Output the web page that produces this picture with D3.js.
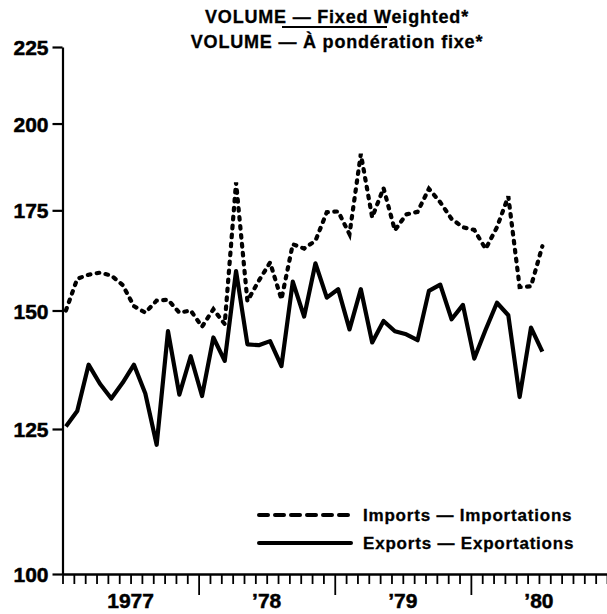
<!DOCTYPE html>
<html><head><meta charset="utf-8">
<script src="https://cdn.jsdelivr.net/npm/d3@7"></script>
<style>
body{margin:0;background:#fff}
svg{display:block}
text{font-family:"Liberation Sans",Arial,Helvetica,sans-serif;font-weight:bold;fill:#000}
</style>
</head><body><svg id="c" width="607" height="614"></svg>
<script>
// Monthly index values, January 1977 onward
const imports = [150,157.5,158.5,159,158.3,156,151,149.5,152.3,152.5,149.5,150,
  146.3,150.3,146.9,182.7,152.2,157,161.5,152.6,166.1,165,167,174.5,
  174.7,168.7,190.9,173.1,181.1,169.7,173.9,174.6,180.9,177.2,172.7,170.5,
  169.8,164.9,170.5,178.8,155.5,155.7,165.6];
const exportsV = [125.5,128.5,138,134,131,134.2,138,132,122,145.3,131.8,139.8,
  131.5,143.9,138.8,159.4,142.4,142.2,143.1,137.7,156.8,148.6,161.3,153,
  155,145.7,155,142.8,147.6,145.3,144.6,143.3,154.6,156.1,148,151.3,
  139.3,145.6,151.8,148.9,131.3,146.1,140.8];
const yTicks = [100,125,150,175,200,225];
const yearLabels = ["1977","\u201978","\u201979","\u201980"];
const titleLines = ["VOLUME \u2014 Fixed Weighted*","VOLUME \u2014 \u00C0 pond\u00E9ration fixe*"];
const legendLabels = ["Imports \u2014 Importations","Exports \u2014 Exportations"];

const svg = d3.select("#c");
const x = d3.scaleLinear().domain([0,48]).range([62.5,607]);
const y = d3.scaleLog().domain([100,225]).range([574,47]);
const monthOffset = 0.3;

// Title
svg.selectAll("text.title").data(titleLines).join("text")
  .attr("class","title")
  .attr("x",337).attr("y",(d,i)=>23+i*25)
  .attr("text-anchor","middle")
  .style("font-size","18px").style("letter-spacing","0.8px")
  .attr("stroke","#000").attr("stroke-width",0.3)
  .text(d=>d);
svg.append("line").attr("x1",282).attr("x2",387).attr("y1",27).attr("y2",27)
  .attr("stroke","#000").attr("stroke-width",2);

// Y axis
const ya = svg.append("g").attr("transform","translate(62.5,0)")
  .call(d3.axisLeft(y).tickValues(yTicks).tickFormat(d3.format("d")).tickSize(10).tickSizeOuter(0).tickPadding(4));
ya.select(".domain").attr("stroke-width",2.2);
ya.selectAll(".tick line").attr("stroke-width",2.2);
ya.selectAll(".tick text").style("font-size","21px").attr("dy","0.36em")
  .attr("stroke","#000").attr("stroke-width",0.5);

// X axis
const xa = svg.append("g").attr("transform","translate(0,574)")
  .call(d3.axisBottom(x).tickValues(d3.range(0,49)).tickFormat("").tickSize(10).tickSizeOuter(0));
xa.select(".domain").attr("stroke-width",2.5);
xa.selectAll(".tick line").attr("stroke-width",1.8)
  .attr("y2",d=> (d%12===0 && d>0 && d<48) ? 21 : 10);
svg.selectAll("text.year").data(yearLabels).join("text")
  .attr("class","year")
  .attr("x",(d,i)=>x(i*12+6)).attr("y",608)
  .attr("text-anchor","middle").style("font-size","21px")
  .attr("stroke","#000").attr("stroke-width",0.5)
  .text(d=>d);

// Lines
const line = d3.line().x((d,i)=>x(i+monthOffset)).y(d=>y(d));
svg.append("path").datum(exportsV).attr("d",line)
  .attr("fill","none").attr("stroke","#000").attr("stroke-width",4.2)
  .attr("stroke-linejoin","round");
svg.append("path").datum(imports).attr("d",line)
  .attr("fill","none").attr("stroke","#000").attr("stroke-width",4.2)
  .attr("stroke-linecap","round").attr("stroke-dasharray","2.6,6.4");

// Legend
const lg = svg.append("g");
lg.selectAll("line").data(legendLabels).join("line")
  .attr("x1",259).attr("x2",351).attr("y1",(d,i)=>515+i*28).attr("y2",(d,i)=>515+i*28)
  .attr("stroke","#000").attr("stroke-width",4)
  .attr("stroke-linecap","round")
  .attr("stroke-dasharray",(d,i)=> i===0 ? "9,7" : null);
lg.selectAll("text").data(legendLabels).join("text")
  .attr("x",363).attr("y",(d,i)=>521+i*28)
  .style("font-size","17px").style("letter-spacing","0.8px")
  .attr("stroke","#000").attr("stroke-width",0.3)
  .text(d=>d);
</script>
</body></html>
